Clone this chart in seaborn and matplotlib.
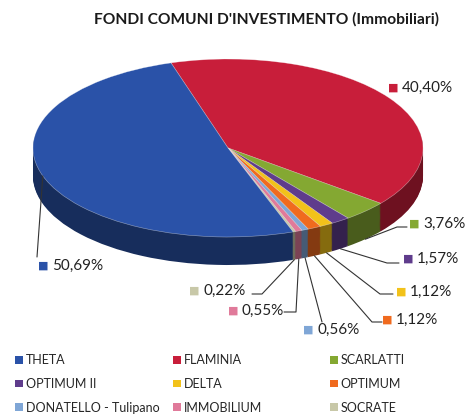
import numpy as np
import matplotlib
matplotlib.use("Agg")
import matplotlib.pyplot as plt
import seaborn as sns
from matplotlib.patches import Patch

# --------------------------
# Data (clockwise from the top of the pie)
# --------------------------
funds = ["FLAMINIA", "SCARLATTI", "OPTIMUM II", "DELTA", "OPTIMUM",
         "DONATELLO - Tulipano", "IMMOBILIUM", "SOCRATE", "THETA"]
shares = [40.40, 3.76, 1.57, 1.12, 1.12, 0.56, 0.55, 0.22, 50.69]

# legend as in the original, read row by row
legend_rows = [["THETA", "FLAMINIA", "SCARLATTI"],
               ["OPTIMUM II", "DELTA", "OPTIMUM"],
               ["DONATELLO - Tulipano", "IMMOBILIUM", "SOCRATE"]]

colors = {
    "THETA": "#2a52a8",
    "FLAMINIA": "#c81e3a",
    "SCARLATTI": "#84a832",
    "OPTIMUM II": "#5f3c8c",
    "DELTA": "#f2c21a",
    "OPTIMUM": "#f06a1e",
    "DONATELLO - Tulipano": "#7fa6d6",
    "IMMOBILIUM": "#e07a9a",
    "SOCRATE": "#c8c8a8",
}

# --------------------------
# Layout (pixels of the 469x420 picture)
# --------------------------
W, H = 469, 420
CX, CY = 228, 148      # centre of the top face
RX, RY = 195, 89       # half axes of the ellipse
DEPTH = 28             # thickness of the disc
START = 107

# marker position of each label, and elbow of its leader line
label_px = {
    "FLAMINIA": (393, 88),
    "SCARLATTI": (414, 224),
    "OPTIMUM II": (408, 259),
    "DELTA": (401, 292),
    "OPTIMUM": (387, 320),
    "DONATELLO - Tulipano": (308, 330),
    "IMMOBILIUM": (233, 311),
    "SOCRATE": (194, 291),
    "THETA": (43, 266),
}
leader_px = {
    "SCARLATTI": [(397, 227), (407, 227)],
    "OPTIMUM II": [(387, 263), (399, 263)],
    "DELTA": [(380, 294), (393, 294)],
    "OPTIMUM": [(372, 322), (382, 322)],
    "DONATELLO - Tulipano": [(322, 322)],
    "IMMOBILIUM": [(296, 312), (284, 312)],
    "SOCRATE": [(262, 294), (252, 294)],
    "THETA": [(37, 257)],
}


def px2data(px, py):
    return (px - CX) / RX, (CY - py) / RY


def darker(c, f):
    r, g, b = matplotlib.colors.to_rgb(c)
    return (r * f, g * f, b * f)


sns.set_theme(style="white")
plt.rcParams['font.family'] = ['Lato', 'DejaVu Sans']

fig = plt.figure(figsize=(W / 100, H / 100), dpi=100)
ax = fig.add_axes([0, 0, 1, 1])

slice_colors = [colors[f] for f in funds]
depth = DEPTH / RY

# side of the disc: stack of darker pies
steps = 30
for i in range(steps, 0, -1):
    d = depth * i / steps
    ax.pie(shares, colors=[darker(c, 0.55) for c in slice_colors],
           startangle=START, counterclock=False, radius=1,
           center=(0, -d), wedgeprops=dict(linewidth=0))
# top face
wedges, _ = ax.pie(shares, colors=slice_colors, startangle=START,
                   counterclock=False, radius=1, center=(0, 0),
                   wedgeprops=dict(linewidth=0.4, edgecolor=(1, 1, 1, 0.5)))

ax.set_aspect('auto')
ax.set_xlim(px2data(0, 0)[0], px2data(W, 0)[0])
ax.set_ylim(px2data(0, H)[1], px2data(0, 0)[1])
ax.axis('off')

# labels with leader lines
for w, fund, val in zip(wedges, funds, shares):
    mid = np.deg2rad((w.theta1 + w.theta2) / 2)
    if fund in leader_px:
        if fund == "THETA":
            sx, sy = np.cos(mid), np.sin(mid)
        else:
            sx, sy = np.cos(mid), np.sin(mid) - depth
        pts = [(sx, sy)] + [px2data(*p) for p in leader_px[fund]]
        xs, ys = zip(*pts)
        ax.plot(xs, ys, color="#333333", lw=0.8)
    mx, my = px2data(*label_px[fund])
    ax.text(mx, my, "\u25a0", color=colors[fund], fontsize=8,
            ha="center", va="center", family="DejaVu Sans")
    ax.text(mx + 9 / RX, my, f"{val:.2f}".replace(".", ",") + "%",
            fontsize=11, color="#222222", ha="left", va="center")

fig.text(266 / W, 1 - 19 / H, "FONDI COMUNI D'INVESTIMENTO (Immobiliari)",
         fontsize=11.2, fontweight="bold", color="#1a1a1a",
         ha="center", va="center")

# legend: one block per column
col_x = [10, 168, 325]
for j, x0 in enumerate(col_x):
    names = [row[j] for row in legend_rows]
    handles = [Patch(facecolor=colors[n], edgecolor="none") for n in names]
    fig.legend(handles, names, loc="upper left",
               bbox_to_anchor=(x0 / W, 1 - 349 / H), frameon=False,
               fontsize=9, handlelength=0.6, handleheight=0.6,
               handletextpad=0.25, labelspacing=0.95, borderaxespad=0)

fig.savefig("out.png", dpi=100, facecolor="white")
